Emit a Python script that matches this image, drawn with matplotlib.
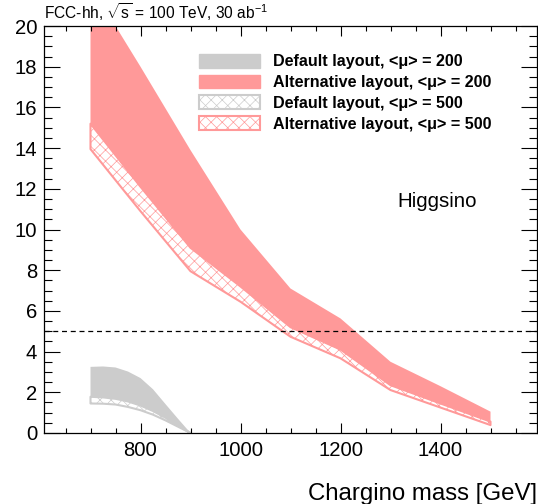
import numpy as np
import matplotlib
matplotlib.use("Agg")
import matplotlib.pyplot as plt
from matplotlib.patches import Patch
from matplotlib.ticker import MultipleLocator

plt.rcParams['font.family'] = ['Liberation Sans', 'DejaVu Sans']
plt.rcParams['mathtext.fontset'] = 'custom'
plt.rcParams['mathtext.rm'] = 'Liberation Sans'
plt.rcParams['hatch.linewidth'] = 0.5

# chargino masses [GeV]
mass_default = [700, 725, 750, 775, 800, 825, 850, 875, 900]
mass_alt = [700, 800, 900, 1000, 1100, 1200, 1300, 1400, 1500]

# default layout (grey)
def200_hi = [3.25, 3.27, 3.22, 3.02, 2.7, 2.15, 1.42, 0.70, 0.0]
def200_lo = [1.78, 1.75, 1.68, 1.55, 1.35, 1.08, 0.75, 0.38, 0.0]
def500_hi = [1.78, 1.75, 1.68, 1.55, 1.35, 1.08, 0.75, 0.38, 0.0]
def500_lo = [1.45, 1.44, 1.40, 1.28, 1.12, 0.90, 0.62, 0.31, 0.0]

# alternative layout (red)
alt200_hi = [22.0, 18.0, 13.9, 10.0, 7.1, 5.63, 3.5, 2.3, 1.05]
alt200_lo = [15.2, 12.1, 9.1, 7.2, 5.2, 4.1, 2.35, 1.45, 0.56]
alt500_hi = [15.2, 12.1, 9.1, 7.2, 5.2, 4.1, 2.35, 1.45, 0.56]
alt500_lo = [13.95, 10.9, 7.95, 6.45, 4.73, 3.67, 2.11, 1.25, 0.39]

labels = ["Default layout, <\u03bc> = 200",
          "Alternative layout, <\u03bc> = 200",
          "Default layout, <\u03bc> = 500",
          "Alternative layout, <\u03bc> = 500"]

grey = "#cccccc"
red = "#ff9999"

fig = plt.figure(figsize=(5.38, 5.04), dpi=100)
ax = fig.add_axes([44/538, 71/504, 493/538, 407/504])

# hatched <mu> = 500 bands first, solid <mu> = 200 on top
ax.fill_between(mass_default, def500_lo, def500_hi, facecolor="white",
                edgecolor=grey, hatch="xxx", linewidth=1.5)
ax.fill_between(mass_alt, alt500_lo, alt500_hi, facecolor="white",
                edgecolor=red, hatch="xxx", linewidth=1.5)
ax.fill_between(mass_default, def200_lo, def200_hi, facecolor=grey,
                edgecolor="none", linewidth=0)
ax.fill_between(mass_alt, alt200_lo, alt200_hi, facecolor=red,
                edgecolor="none", linewidth=0)

ax.axhline(5, color="black", linestyle=(0, (4, 3)), linewidth=0.9)

ax.set_xlim(607, 1593)
ax.set_ylim(0, 20)
ax.xaxis.set_major_locator(MultipleLocator(200))
ax.xaxis.set_minor_locator(MultipleLocator(50))
ax.yaxis.set_major_locator(MultipleLocator(2))
ax.yaxis.set_minor_locator(MultipleLocator(0.5))
ax.tick_params(which="both", direction="in", top=True, right=True,
               width=0.8, labelsize=14.6)
ax.tick_params(axis="x", which="major", length=7.2, pad=6)
ax.tick_params(axis="x", which="minor", length=3.6)
ax.tick_params(axis="y", which="major", length=11.5, pad=5)
ax.tick_params(axis="y", which="minor", length=5.8)
for sp in ax.spines.values():
    sp.set_linewidth(0.9)

ax.set_xlabel("Chargino mass [GeV]", fontsize=17.3, ha="right", va="baseline")
ax.xaxis.set_label_coords(1.0, -0.165)

ax.text(0.797, 0.555, "Higgsino", transform=ax.transAxes, fontsize=14.8,
        ha="center", va="baseline")

fig.text(44/538, (504 - 19)/504,
         r"FCC-hh, $\sqrt{\mathrm{s}}$ = 100 TeV, 30 ab$^{-1}$",
         fontsize=11.2, ha="left", va="baseline")

handles = [Patch(facecolor=grey, edgecolor=grey),
           Patch(facecolor=red, edgecolor=red),
           Patch(facecolor="white", edgecolor=grey, hatch="xxx", linewidth=1.5),
           Patch(facecolor="white", edgecolor=red, hatch="xxx", linewidth=1.5)]
fig.legend(handles, labels, loc="upper left",
           bbox_to_anchor=(199/538, (504 - 54)/504), frameon=False,
           prop={"weight": "bold", "size": 11.6}, borderpad=0,
           borderaxespad=0, handlelength=3.8, handleheight=0.93,
           handletextpad=0.8, labelspacing=0.33)

fig.savefig("out.png", dpi=100)
